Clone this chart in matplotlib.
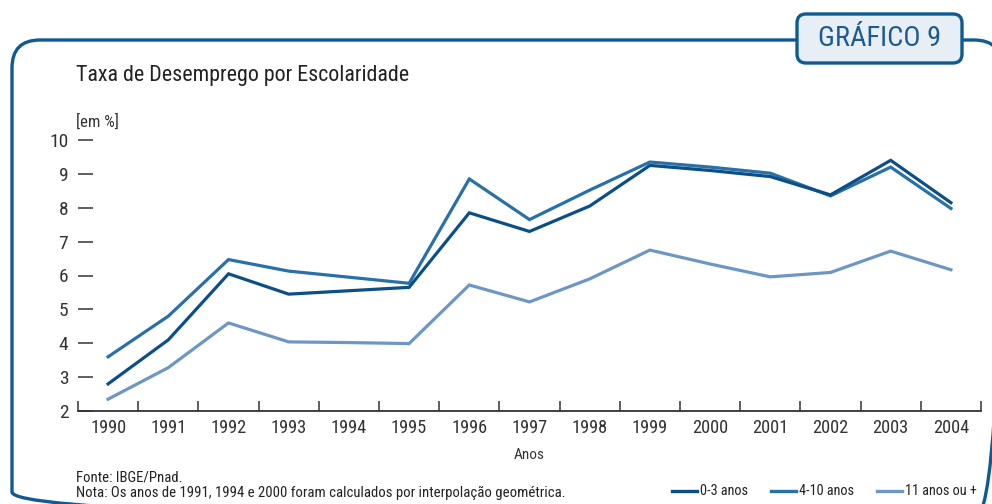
import matplotlib
matplotlib.use("Agg")
import matplotlib.pyplot as plt
from matplotlib import font_manager
from matplotlib.patches import FancyBboxPatch
from matplotlib.lines import Line2D

# data
anos = ['1990', '1991', '1992', '1993', '1994', '1995', '1996', '1997',
        '1998', '1999', '2000', '2001', '2002', '2003', '2004']
esc_0_3 = [2.8, 4.1, 6.05, 5.45, 5.55, 5.65, 7.85, 7.3, 8.05, 9.25, 9.1, 8.92, 8.38, 9.4, 8.15]
esc_4_10 = [3.6, 4.8, 6.47, 6.13, 5.95, 5.77, 8.85, 7.65, 8.52, 9.35, 9.2, 9.02, 8.35, 9.2, 7.98]
esc_11 = [2.35, 3.28, 4.6, 4.04, 4.02, 3.99, 5.72, 5.22, 5.9, 6.75, 6.34, 5.96, 6.09, 6.72, 6.17]
series_labels = ['0-3 anos', '4-10 anos', '11 anos ou +']
series_colors = ['#0b4f86', '#2870a7', '#6c97c5']
y_ticks = [2, 3, 4, 5, 6, 7, 8, 9, 10]

available = {f.name for f in font_manager.fontManager.ttflist}
fam = 'DejaVu Sans'
for cand in ['Liberation Sans Narrow', 'Roboto Condensed', 'Open Sans Condensed', 'Liberation Sans']:
    if cand in available:
        fam = cand
        break
plt.rcParams['font.family'] = [fam, 'DejaVu Sans']

W, H = 992, 504
fig = plt.figure(figsize=(W / 100, H / 100), dpi=100)

# background frame in pixel coords
bg = fig.add_axes([0, 0, 1, 1], zorder=0)
bg.set_xlim(0, W)
bg.set_ylim(H, 0)
bg.axis('off')
frame_blue = '#0f5a93'
bg.add_patch(FancyBboxPatch((12, 40), 990, 480, boxstyle='round,pad=0,rounding_size=28',
                            fc='none', ec=frame_blue, lw=2.4))
bg.add_patch(FancyBboxPatch((797, 14), 165, 49, boxstyle='round,pad=0,rounding_size=9',
                            fc='#e8eef6', ec=frame_blue, lw=2.4, zorder=3))
bg.text(879.5, 39, 'GRÁFICO 9', ha='center', va='center', fontsize=20.5, color='#1b5b8f', zorder=4)
bg.text(76, 75, 'Taxa de Desemprego por Escolaridade', ha='left', va='center', fontsize=15.8, color='#222222')
bg.text(76, 122, '[em %]', ha='left', va='center', fontsize=12, color='#333333')
bg.text(76, 478, 'Fonte: IBGE/Pnad.', ha='left', va='center', fontsize=10.6, color='#222222')
bg.text(76, 493, 'Nota: Os anos de 1991, 1994 e 2000 foram calculados por interpolação geométrica.',
        ha='left', va='center', fontsize=10.6, color='#222222')

# legend (manual, bottom right)
leg_x = [672, 771, 877]
for lx, lab, col in zip(leg_x, series_labels, series_colors):
    bg.add_line(Line2D([lx, lx + 25], [491, 491], color=col, lw=2.4))
    bg.text(lx + 28, 491, lab, ha='left', va='center', fontsize=10.3, color='#222222')

# main chart
ax = fig.add_axes([78 / W, 1 - 411 / H, (981 - 78) / W, (411 - 140) / H], zorder=1)
ax.patch.set_alpha(0)
x = list(range(len(anos)))
for vals, col, lab in zip([esc_11, esc_4_10, esc_0_3], series_colors[::-1], series_labels[::-1]):
    ax.plot(x, vals, color=col, lw=2.3, label=lab, solid_joinstyle='miter')

ax.set_xlim(-0.5, len(anos) - 0.5)
ax.set_ylim(2, 10)
for s in ['top', 'right', 'left']:
    ax.spines[s].set_visible(False)
ax.spines['bottom'].set_color('#333333')
ax.spines['bottom'].set_linewidth(1.3)

ax.set_yticks(y_ticks)
ax.set_yticklabels([str(v) for v in y_ticks], fontsize=14, color='#333333')
ax.tick_params(axis='y', direction='in', length=11, width=1.1, color='#333333', pad=7)

ax.set_xticks([i - 0.5 for i in range(len(anos) + 1)])
ax.set_xticklabels([])
ax.tick_params(axis='x', which='major', direction='in', length=7.5, width=1.1, color='#333333')
ax.set_xticks(x, minor=True)
ax.set_xticklabels(anos, minor=True, fontsize=13.2, color='#333333')
ax.tick_params(axis='x', which='minor', length=0, pad=6)
ax.set_xlabel('Anos', fontsize=11, color='#333333', labelpad=8)

fig.savefig('out.png', dpi=100)
